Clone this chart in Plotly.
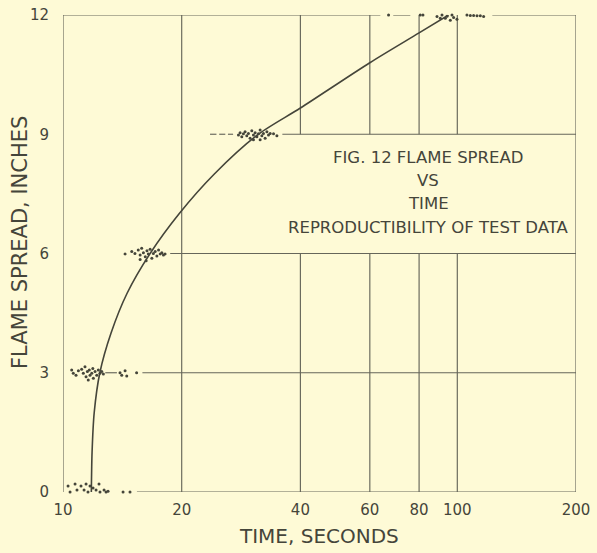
import math
import plotly.graph_objects as go

# ---------------- data ----------------
x_tick_vals = [10, 20, 40, 60, 80, 100, 200]
x_tick_text = ["10", "20", "40", "60", "80", "100", "200"]
y_tick_vals = [0, 3, 6, 9, 12]
y_tick_text = ["0", "3", "6", "9", "12"]

# faired curve through the test data
curve_time = [11.8, 11.85, 12.0, 12.4, 13.24, 14.54, 16.63, 19.7, 24.2, 31.3, 40.0, 60.0, 80.0, 95.0]
curve_spread = [0, 1, 2, 3, 4, 5, 6, 7, 8, 9, 9.66, 10.8, 11.55, 12]

# individual test points, grouped by flame-spread station
dots0_time = [10.30, 10.42, 10.54, 10.73, 10.85, 10.98, 11.11, 11.17, 11.31, 11.37, 11.44, 11.57, 11.64,
              11.71, 11.85, 11.92, 11.99, 12.13, 12.27, 12.34, 12.41, 12.56, 12.71, 12.86, 13.01, 13.95,
              14.20, 14.79]
dots0_spread = [0.15, 0.00, -0.10, 0.20, 0.05, -0.05, 0.15, -0.15, 0.05, -0.20, 0.20, 0.00, -0.10,
                0.15, -0.05, 0.10, -0.25, 0.05, -0.10, 0.20, 0.00, -0.05, 0.05, 0.00, 0.02, -0.08,
                0.00, 0.00]

dots3_time = [10.52, 10.62, 10.79, 10.94, 11.15, 11.26, 11.37, 11.44, 11.53, 11.59, 11.66, 11.71, 11.83,
              11.90, 11.94, 12.06, 12.18, 12.29, 12.41, 12.54, 12.66, 13.95, 14.09, 14.37, 14.51, 15.37]
dots3_spread = [3.07, 2.99, 2.94, 3.05, 3.09, 2.99, 3.15, 2.90, 3.03, 2.82, 3.07, 2.94, 2.99,
                3.11, 2.86, 3.03, 2.94, 3.07, 2.99, 3.03, 2.97, 3.00, 2.94, 3.05, 2.92, 3.00]

dots6_time = [14.37, 14.94, 15.22, 15.52, 15.69, 15.83, 15.99, 16.17, 16.33, 16.46, 16.63, 16.80, 16.95,
              17.13, 17.30, 17.47, 17.64, 17.81, 17.98, 18.15, 16.25, 15.69]
dots6_spread = [5.99, 6.05, 6.00, 6.09, 5.96, 6.13, 6.02, 5.92, 6.07, 5.99, 6.11, 5.88, 6.00,
                6.05, 5.94, 6.09, 5.99, 6.02, 5.96, 5.99, 5.82, 5.85]

dots9_time = [27.86, 28.13, 28.41, 28.68, 28.96, 29.25, 29.53, 29.82, 30.12, 30.41, 30.71, 31.02, 31.31,
              31.62, 31.94, 32.24, 32.56, 32.89, 33.20, 33.53, 34.19, 34.87, 30.41, 31.62]
dots9_spread = [8.98, 9.04, 8.94, 9.01, 9.06, 8.96, 9.02, 8.90, 9.09, 8.98, 9.04, 8.94, 9.01,
                9.11, 8.96, 9.02, 8.90, 9.06, 8.98, 9.02, 9.01, 8.96, 8.86, 8.86]

dots12_time = [66.93, 80.55, 81.83, 87.96, 88.83, 89.66, 90.19, 90.56, 91.46, 92.31, 93.24, 94.17, 94.50,
               95.04, 95.99, 96.94, 97.86, 98.83, 99.80, 105.8, 107.9, 110.0, 112.2, 114.4, 116.6]
dots12_spread = [12.0, 12.0, 12.0, 12.04, 11.96, 12.08, 12.13, 11.92, 12.0, 12.04, 11.92, 11.97, 12.13,
                 12.06, 11.87, 12.0, 11.94, 12.04, 11.89, 12.0, 11.99, 11.99, 11.98, 11.98, 11.96]

# ---------------- style ----------------
BG = "#FEFAD6"
INK = "#45453a"
GRID = "#66665a"
FONT = "DejaVu Sans"

# grid-line spans (where the drafted rules are drawn, gaps around data & legend box)
v_spans_full = [(0, 12)]
v_spans_box = [(0, 6), (9, 12)]
h_spans = {
    0: [(15.4, 200)],
    3: [(12.8, 13.7), (15.9, 200)],
    6: [(18.7, 200)],
    9: [(23.6, 24.5), (24.9, 25.8), (26.2, 27.0), (36.0, 200)],
    12: [(10, 63.8), (68.8, 76.0), (122.7, 200)],
}

fig = go.Figure()

gx, gy = [], []
for xv in x_tick_vals:
    spans = v_spans_box if 20 < xv < 200 else v_spans_full
    for a, b in spans:
        gx += [xv, xv, None]
        gy += [a, b, None]
for yv in y_tick_vals:
    for a, b in h_spans[yv]:
        gx += [a, b, None]
        gy += [yv, yv, None]

fig.add_trace(go.Scatter(x=gx, y=gy, mode="lines", line=dict(color=GRID, width=1.15),
                         hoverinfo="skip", showlegend=False, cliponaxis=False))

fig.add_trace(go.Scatter(x=curve_time, y=curve_spread, mode="lines",
                         line=dict(color=INK, width=1.6, shape="spline", smoothing=0.8),
                         showlegend=False, cliponaxis=False))

all_t = dots0_time + dots3_time + dots6_time + dots9_time + dots12_time
all_s = dots0_spread + dots3_spread + dots6_spread + dots9_spread + dots12_spread
fig.add_trace(go.Scatter(x=all_t, y=all_s, mode="markers",
                         marker=dict(color=INK, size=3.0), showlegend=False, cliponaxis=False))

W, H = 597, 553
L, R, T, B = 63, 21, 15, 61
pw, ph = W - L - R, H - T - B


def px(xp):
    return (xp - L) / pw


def py(yp):
    return (H - B - yp) / ph


ann = []
box_lines = [("FIG. 12 FLAME SPREAD", 157), ("VS", 181), ("TIME", 203),
             ("REPRODUCTIBILITY OF TEST DATA", 227)]
for txt, yp in box_lines:
    ann.append(dict(text=txt, xref="paper", yref="paper", x=px(428), y=py(yp),
                    xanchor="center", yanchor="middle", showarrow=False,
                    font=dict(family=FONT, size=16.5, color=INK)))
ann.append(dict(text="FLAME SPREAD, INCHES", xref="paper", yref="paper", x=px(20), y=py(243),
                textangle=-90, xanchor="center", yanchor="middle", showarrow=False,
                font=dict(family=FONT, size=21, color=INK)))
ann.append(dict(text="TIME, SECONDS", xref="paper", yref="paper", x=px(319), y=py(536),
                xanchor="center", yanchor="middle", showarrow=False,
                font=dict(family=FONT, size=20, color=INK)))

fig.update_layout(
    width=W, height=H,
    margin=dict(l=L, r=R, t=T, b=B, pad=0, autoexpand=False),
    paper_bgcolor=BG, plot_bgcolor=BG,
    annotations=ann,
    showlegend=False,
)
fig.update_xaxes(type="log", range=[1, math.log10(200)], tickvals=x_tick_vals, ticktext=x_tick_text,
                 showgrid=False, zeroline=False, showline=False, ticks="", automargin=False,
                 tickfont=dict(family=FONT, size=15, color=INK), ticklabelstandoff=7)
fig.update_yaxes(range=[0, 12], tickvals=y_tick_vals, ticktext=y_tick_text,
                 showgrid=False, zeroline=False, showline=False, ticks="", automargin=False,
                 tickfont=dict(family=FONT, size=15, color=INK), ticklabelstandoff=13)

page_js = ("document.body.style.margin='0';document.body.style.padding='0';"
           "document.body.style.overflow='hidden';document.body.style.background='" + BG + "';")
fig.write_html("out.html", post_script=page_js, config={"displayModeBar": False})
